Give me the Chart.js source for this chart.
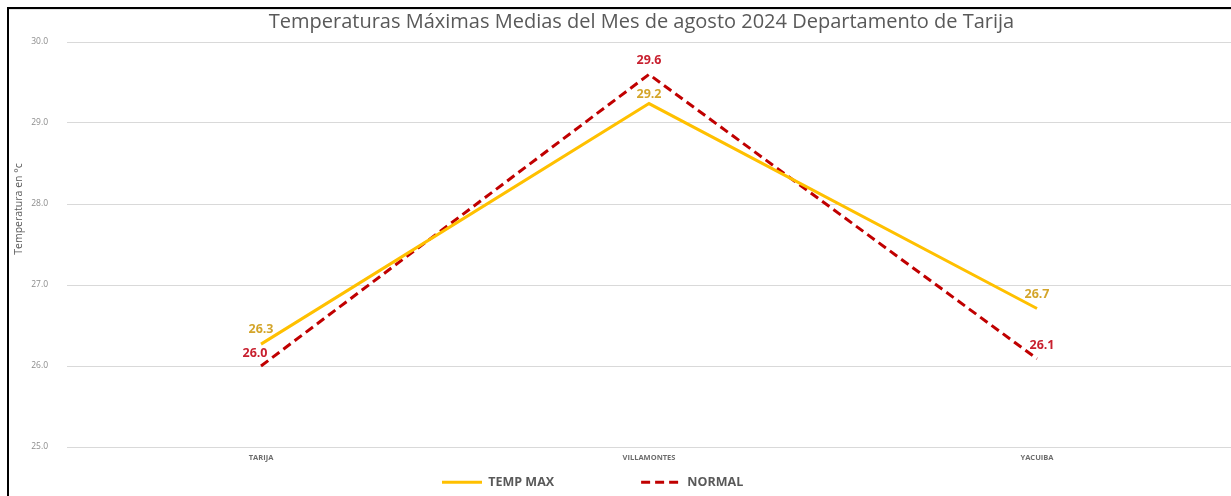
<!DOCTYPE html>
<html>
<head>
<meta charset="utf-8">
<script src="https://cdn.jsdelivr.net/npm/chart.js@4.4.1/dist/chart.umd.min.js"></script>
<style>
  html, body { margin: 0; padding: 0; background: #ffffff; }
  #wrap { width: 1231px; height: 496px; }
</style>
</head>
<body>
<div id="wrap"><canvas id="c" width="1231" height="496"></canvas></div>
<script>
const categories = ['TARIJA', 'VILLAMONTES', 'YACUIBA'];
const tempMax = [26.27, 29.24, 26.71];
const normal = [26.0, 29.6, 26.09];
const seriesNames = ['TEMP MAX', 'NORMAL'];
const titleText = 'Temperaturas Máximas Medias del Mes de agosto 2024 Departamento de Tarija';
const yAxisTitle = 'Temperatura en °c';
const yMin = 25, yMax = 30, yStep = 1;

const FONT = "'Open Sans', 'Noto Sans', sans-serif";

const framePlugin = {
  id: 'frame',
  beforeDraw(chart) {
    const ctx = chart.ctx;
    ctx.save();
    ctx.fillStyle = '#ffffff';
    ctx.fillRect(0, 0, chart.width, chart.height);
    ctx.fillStyle = '#e3e3e3';
    ctx.fillRect(9, 9, chart.width - 9, 1);
    ctx.fillStyle = '#000000';
    ctx.fillRect(7, 7, chart.width - 7, 2);
    ctx.fillRect(7, 7, 2, chart.height - 7);
    ctx.restore();
  },
  afterLayout(chart) {
    const t = chart.titleBlock;
    if (t) { t.left += 26; t.right += 26; }
    const lg = chart.legend;
    const pad = lg.options.labels.padding;
    lg.left = 442 - pad;
    lg.right = chart.width;
    lg.top = 476 - pad;
  },
  afterDraw(chart) {
    const ctx = chart.ctx;
    ctx.save();
    ctx.translate(19, 209);
    ctx.rotate(-Math.PI / 2);
    ctx.font = "10.5px " + FONT;
    ctx.fillStyle = '#595959';
    ctx.textAlign = 'center';
    ctx.textBaseline = 'middle';
    ctx.fillText(yAxisTitle, 0, 0);
    ctx.restore();
  }
};

const labelPlugin = {
  id: 'valueLabels',
  afterDatasetsDraw(chart, args, opts) {
    const ctx = chart.ctx;
    ctx.save();
    ctx.font = "bold 12.5px " + FONT;
    ctx.textAlign = 'center';
    ctx.textBaseline = 'middle';
    chart.data.datasets.forEach((ds, di) => {
      const meta = chart.getDatasetMeta(di);
      ctx.fillStyle = opts.colors[di];
      meta.data.forEach((pt, i) => {
        const off = opts.offsets[di][i];
        ctx.fillText(ds.data[i].toFixed(1), pt.x + off[0], pt.y + off[1]);
      });
    });
    ctx.restore();
  }
};

new Chart(document.getElementById('c'), {
  type: 'line',
  data: {
    labels: categories,
    datasets: [
      {
        label: seriesNames[0],
        data: tempMax,
        borderColor: '#FFC000',
        backgroundColor: '#FFC000',
        borderWidth: 3,
        pointRadius: 0,
        tension: 0
      },
      {
        label: seriesNames[1],
        data: normal,
        borderColor: '#C00000',
        backgroundColor: '#C00000',
        borderWidth: 3,
        borderDash: [9, 5],
        pointRadius: 0,
        tension: 0
      }
    ]
  },
  options: {
    responsive: false,
    animation: false,
    layout: { padding: 0 },
    plugins: {
      title: {
        display: true,
        text: titleText,
        color: '#595959',
        font: { family: FONT, size: 20, weight: 'normal' },
        padding: { top: 10, bottom: 8 }
      },
      legend: {
        display: true,
        position: 'bottom',
        align: 'start',
        maxHeight: 34,
        labels: {
          usePointStyle: true,
          pointStyle: 'line',
          pointStyleWidth: 40,
          padding: 87,
          color: '#595959',
          font: { family: FONT, size: 12.5, weight: 'bold' },
          generateLabels(chart) {
            const items = Chart.defaults.plugins.legend.labels.generateLabels(chart);
            items.forEach(it => {
              const ds = chart.data.datasets[it.datasetIndex];
              it.lineDash = ds.borderDash || [];
              it.lineWidth = ds.borderWidth;
              it.strokeStyle = ds.borderColor;
            });
            return items;
          }
        }
      },
      tooltip: { enabled: false },
      valueLabels: {
        colors: ['#D4A52A', '#C8202F'],
        offsets: [[[0, -15], [0, -9], [0, -14]], [[-6, -13], [0, -14], [5, -13]]]
      }
    },
    scales: {
      x: {
        offset: true,
        grid: { display: false, drawTicks: false },
        border: { display: false },
        ticks: {
          color: '#6d6d6d',
          padding: 6,
          font: { family: FONT, size: 7.5, weight: 'bold' }
        },
        afterFit(scale) { scale.height = 15; }
      },
      y: {
        min: yMin,
        max: yMax,
        grid: { color: '#d9d9d9', lineWidth: 1, drawTicks: false },
        border: { display: false },
        ticks: {
          stepSize: yStep,
          color: '#8c8c8c',
          padding: 19,
          font: { family: FONT, size: 8.5 },
          callback: v => v.toFixed(1)
        },
        afterFit(scale) { scale.width = 67; }
      }
    }
  },
  plugins: [framePlugin, labelPlugin]
});
</script>
</body>
</html>
